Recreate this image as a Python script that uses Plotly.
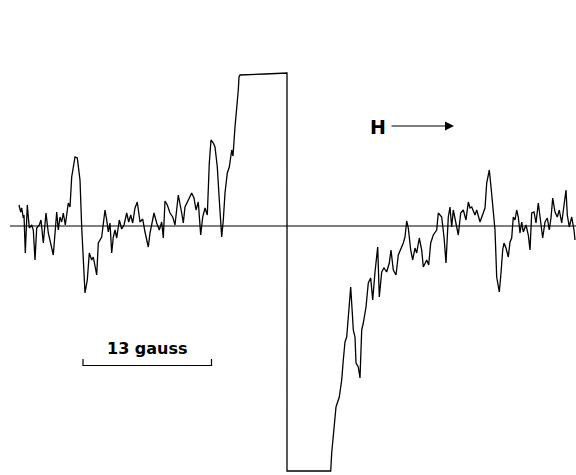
import plotly.graph_objects as go

# Field position (arbitrary sweep units) and derivative signal amplitude (arbitrary units)
field = [19, 20.7, 21.7, 23.3, 24, 25.3, 27.3, 29.3, 31.7, 33.3, 35, 36.7, 39.3, 41, 43.3, 46, 48.3,
         53.3, 56.7, 58.3, 60, 61.7, 63.3, 65.3, 68.3, 70, 71.7, 75, 77.3, 80, 81.7, 83.3, 85, 87.3,
         89.3, 91.7, 93.3, 96.7, 98.3, 101.7, 105, 106.7, 108.3, 110, 111.7, 113.3, 115, 116.7, 119.3,
         121.7, 124, 126.7, 128.7, 130.7, 132.7, 135, 137.3, 140, 142.7, 145, 148.3,
         150, 151.7, 154, 156.7, 159.3, 161.7, 163.3, 165, 167.3, 170, 172.7, 175, 178.3, 181.7,
         183.3, 185, 188.3, 191.7, 194, 196, 198.3, 200.7, 202.7, 205, 207.3, 209.3, 211, 213.3, 215,
         217.3, 219.3, 221.7, 223.3, 225, 227.3, 229.3, 231.7, 233, 235, 236.7, 238.3, 239, 240,
         265, 287, 287,
         310, 330.7, 331.7, 333.3, 336, 339.3, 341.7, 343.3, 345, 346.7, 348.3, 350.7, 352.3, 353.3,
         355, 356, 358.3, 360, 361.7, 363.3, 366, 368.3, 370.7, 372.7, 375, 377.7, 379.3, 381.7, 384,
         386.7, 389.3, 391, 393.3, 396, 398.3, 400.7, 403.3, 405, 406.7, 408.3, 410.7, 412.7, 415,
         416.7, 419.3, 421.7, 423.3, 426.7, 428.7, 430.7, 433.3, 436.7, 438.3,
         441.7, 444, 446, 448.3, 450, 451.7, 453.3, 456, 458.3, 460.7, 463.3, 466, 468.3, 470, 471.7,
         475, 476.7, 480, 482.7, 485, 486.7, 489.3, 491.3, 493.3, 495, 496.7, 499.3, 501, 502.7, 504,
         506, 508.3, 510, 511.7, 513.3, 515, 516.7, 518.3, 520, 521.7, 523.3, 526, 528.3, 530, 531.7,
         534, 536, 538.3, 540.7, 542.7, 545, 547.3, 549.3, 551, 552.7, 555, 557.3, 559.3, 561.7, 564,
         566, 567.3, 569.3, 571.7, 574, 575]

signal = [21, 14, 18, 8, 11, -27, 21, -2, 1, -4, -34, -2, 1, 6, -17, 13, -7,
          -29, 14, -4, 9, 4, 13, 1, 23, 19, 49, 69, 68, 46, -1, -31, -67, -54,
          -27, -34, -31, -49, -17, -11, 16, 6, -6, 3, -27, -11, -4, -12, 6,
          -3, 1, 13, 4, 11, 3, 18, 24, 4, 7, -6, -21,
          -7, 3, 13, 3, -4, 4, -12, 25, 21, 13, 9, 1, 31, 13,
          3, 19, 26, 33, 28, 16, 24, -9, 9, 18, 11, 63, 86, 83, 79,
          59, 26, -11, 6, 33, 53, 59, 76, 70, 99, 116, 136, 149, 151,
          152, 153, -245,
          -245, -245, -227, -207, -181, -171, -154, -134, -116, -111, -94, -61, -87, -104,
          -111, -137, -141, -152, -104, -97, -81, -57, -52, -74, -46, -21, -71, -46, -42,
          -46, -37, -24, -44, -49, -29, -24, -17, -11, 5, -2, -24, -34, -22,
          -27, -12, -24, -41, -34, -39, -17, -9, -4, 13,
          9, -11, -37, 9, 19, -1, 16, 4, -9, 13, 16, 6, 24, 18, 19,
          11, 16, 4, 11, 18, 43, 56, 36, 9, -4, -51, -66, -47, -24, -17,
          -22, -31, -16, -12, 9, 6, 16, 9, -7, 4, -6, 1, -9, -24, 13,
          14, 3, 23, 6, -12, 4, 8, -4, 8, 28, 14, 9, 16, 3, 21,
          36, 11, -1, 9, -4, -14]

baseline_x = [10, 576]
baseline_y = [0, 0]

scale_bar_x = [83, 83, 211.5, 211.5]
scale_bar_y = [-133, -139.5, -139.5, -133]

fig = go.Figure()
fig.add_trace(go.Scatter(x=baseline_x, y=baseline_y, mode="lines",
                         line=dict(color="black", width=1.1), hoverinfo="skip"))
fig.add_trace(go.Scatter(x=field, y=signal, mode="lines",
                         line=dict(color="black", width=1.3), hoverinfo="skip"))
fig.add_trace(go.Scatter(x=scale_bar_x, y=scale_bar_y, mode="lines",
                         line=dict(color="black", width=1.2), hoverinfo="skip"))

fig.add_annotation(x=147.5, y=-122, text="<b>13 gauss</b>", showarrow=False,
                   font=dict(family="DejaVu Sans", size=16, color="black"),
                   xanchor="center", yanchor="middle")
fig.add_annotation(x=377.5, y=99, text="<b>H</b>", showarrow=False,
                   font=dict(family="DejaVu Sans", size=19, color="black"),
                   xanchor="center", yanchor="middle")
fig.add_annotation(x=454, y=100, ax=390, ay=100, xref="x", yref="y", axref="x", ayref="y",
                   text="", showarrow=True, arrowhead=2, arrowsize=1.5, arrowwidth=1.2,
                   arrowcolor="black")

fig.update_layout(
    width=576, height=475,
    margin=dict(l=0, r=0, t=0, b=0),
    paper_bgcolor="white", plot_bgcolor="white",
    showlegend=False,
    xaxis=dict(range=[0, 576], visible=False, fixedrange=True),
    yaxis=dict(range=[-249, 226], visible=False, fixedrange=True),
)

fig.write_html("out.html")
